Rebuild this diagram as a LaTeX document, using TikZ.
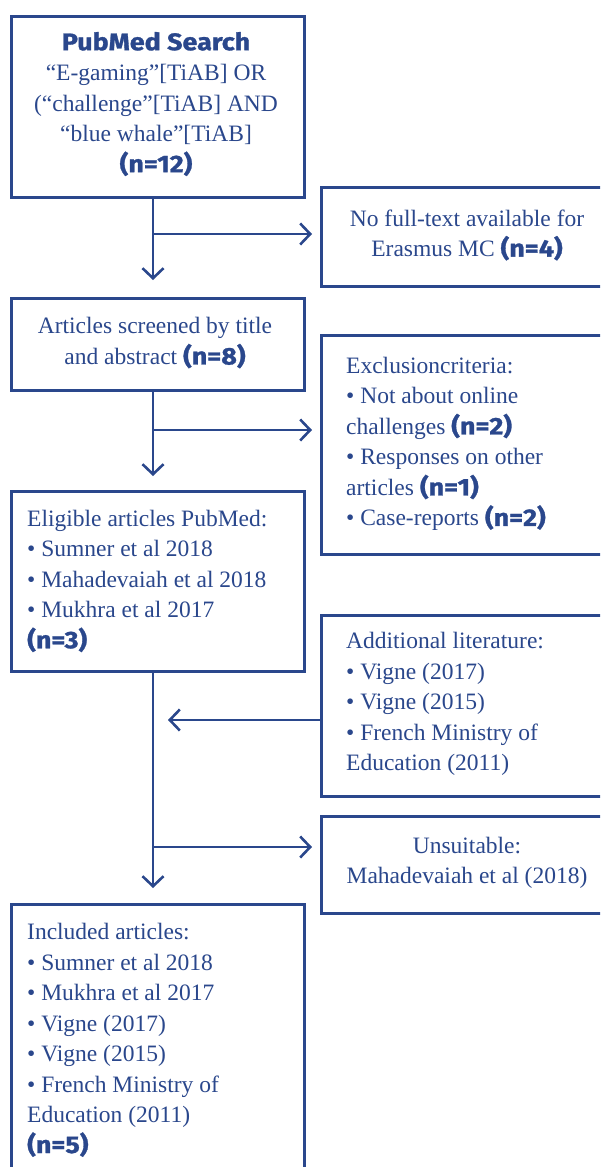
\documentclass[tikz,border=0pt]{standalone}
\usepackage{fontspec}
\setmainfont{Liberation Serif}
\newfontfamily\nfont{Fira Sans}[BoldFeatures={FakeStretch=1.12,FakeBold=1.2}]
\usetikzlibrary{arrows.meta}
\definecolor{dblue}{RGB}{42,71,140}
\newcommand\nn[1]{{\nfont\bfseries\fontsize{24}{30.5}\selectfont #1}}
\begin{document}
\begin{tikzpicture}[x=1pt,y=-1pt,
  box/.style={draw=dblue, line width=2.6pt, inner sep=0pt, anchor=north west},
  txt/.style={text=dblue, inner sep=0pt, font=\fontsize{23.5}{30.5}\selectfont},
  arr/.style={draw=dblue, line width=2.6pt, -{Straight Barb[length=10pt,width=21pt]}}]
\path[use as bounding box, clip] (0,0) rectangle (600,1167);
\fill[white] (0,0) rectangle (600,1167);
% boxes
\node[box, minimum width=293pt, minimum height=181pt] (b1) at (10,15) {};
\node[box, minimum width=295pt, minimum height=99pt]  (b2) at (320,186) {};
\node[box, minimum width=293pt, minimum height=92pt]  (b3) at (10,297) {};
\node[box, minimum width=295pt, minimum height=219pt] (b4) at (320,334) {};
\node[box, minimum width=293pt, minimum height=180pt] (b5) at (10,490) {};
\node[box, minimum width=295pt, minimum height=181pt] (b6) at (320,614) {};
\node[box, minimum width=295pt, minimum height=97pt]  (b7) at (320,815) {};
\node[box, minimum width=293pt, minimum height=290pt] (b8) at (10,903) {};
% texts
\node[txt, align=center] (t1) at (156,104)
  {\nn{PubMed Search}\\
   “E-gaming”[TiAB] OR\\ (“challenge”[TiAB] AND\\ “blue whale”[TiAB]\\ \nn{(n=12)}};
\node[txt, align=center] (t2) at (467,235)
  {No full-text available for\\ Erasmus MC \nn{(n=4)}};
\node[txt, align=center] (t3) at (155,343)
  {Articles screened by title\\ and abstract \nn{(n=8)}};
\node[txt, align=left, anchor=west] (t4) at (346,444)
  {Exclusioncriteria:\\ • Not about online\\ challenges \nn{(n=2)}\\
   • Responses on other\\ articles \nn{(n=1)}\\ • Case-reports \nn{(n=2)}};
\node[txt, align=left, anchor=west] (t5) at (27,581)
  {Eligible articles PubMed:\\ • Sumner et al 2018\\ • Mahadevaiah et al 2018\\
   • Mukhra et al 2017\\ \nn{(n=3)}};
\node[txt, align=left, anchor=west] (t6) at (346,704)
  {Additional literature:\\ • Vigne (2017)\\ • Vigne (2015)\\
   • French Ministry of\\ Education (2011)};
\node[txt, align=center] (t7) at (467,863)
  {Unsuitable:\\ Mahadevaiah et al (2018)};
\node[txt, align=left, anchor=west] (t8) at (27,1040)
  {Included articles:\\ • Sumner et al 2018\\ • Mukhra et al 2017\\
   • Vigne (2017)\\ • Vigne (2015)\\ • French Ministry of\\
   Education (2011)\\ \nn{(n=5)}};
% connectors
\coordinate (vx) at (153,0);
\coordinate (j1) at (153,234);
\coordinate (j2) at (153,430);
\coordinate (j3) at (153,720);
\coordinate (j4) at (153,847);
\draw[arr, shorten >=17pt] (b1.south -| vx) -- (b3.north -| vx);
\draw[arr, shorten >=8pt] (j1) -- (j1 -| b2.west);
\draw[arr, shorten >=14pt] (b3.south -| vx) -- (b5.north -| vx);
\draw[arr, shorten >=8pt] (j2) -- (j2 -| b4.west);
\draw[arr, shorten >=15pt] (b5.south -| vx) -- (b8.north -| vx);
\draw[arr, shorten >=15pt] (b6.west |- j3) -- (j3);
\draw[arr, shorten >=8pt] (j4) -- (j4 -| b7.west);
\end{tikzpicture}
\end{document}
